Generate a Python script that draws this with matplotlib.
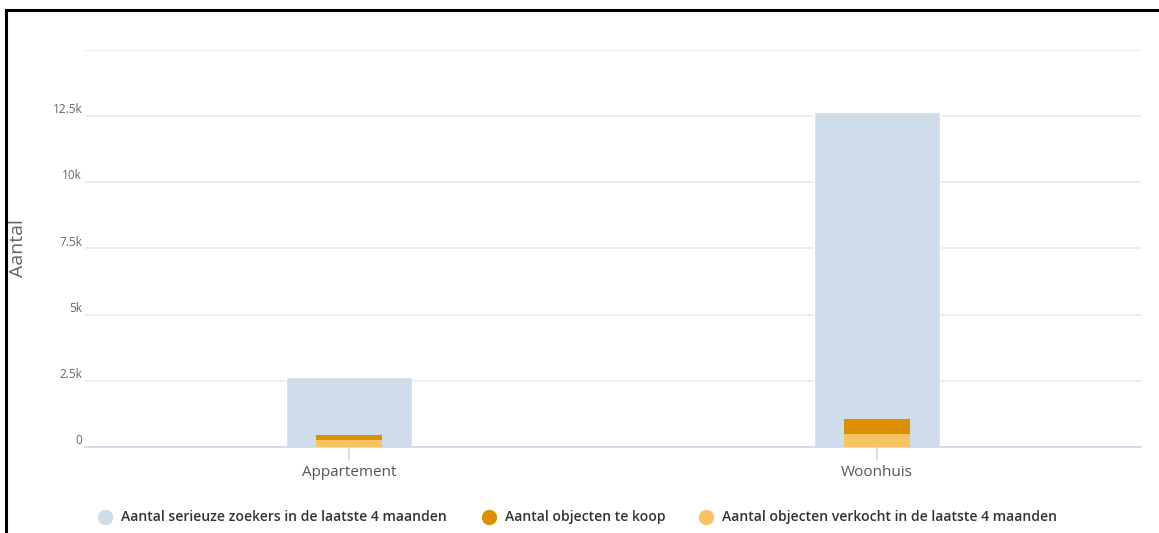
import matplotlib.pyplot as plt
import numpy as np
from matplotlib.lines import Line2D
from matplotlib.ticker import FixedLocator, FuncFormatter

plt.rcParams['font.family'] = ['Open Sans', 'DejaVu Sans']

categories = ['Appartement', 'Woonhuis']
zoekers = [2650, 12650]
te_koop = [180, 540]
verkocht = [260, 510]
series_names = ['Aantal serieuze zoekers in de laatste 4 maanden',
                'Aantal objecten te koop',
                'Aantal objecten verkocht in de laatste 4 maanden']
yticks = [0, 2500, 5000, 7500, 10000, 12500, 15000]

c_blue = '#cfdcea'
c_dark = '#de8f00'
c_light = '#f7c463'

fig = plt.figure(figsize=(11.59, 5.33), dpi=100)
W, H = 1159, 533
ax = fig.add_axes([85 / W, (H - 447) / H, (1141 - 85) / W, (447 - 50) / H])

x = np.arange(len(categories))
ax.bar(x, zoekers, width=0.24, color=c_blue, edgecolor='white', linewidth=1, zorder=2)
ax.bar(x, verkocht, width=0.125, color=c_light, linewidth=0, zorder=3)
ax.bar(x, te_koop, width=0.125, bottom=verkocht, color=c_dark, linewidth=0, zorder=3)

ax.set_xlim(-0.5, 1.5)
ax.set_ylim(0, 15000)
ax.yaxis.set_major_locator(FixedLocator(yticks))


def kfmt(v, pos):
    if v == 15000:
        return ''
    if v == 0:
        return '0'
    return ('%g' % (v / 1000)) + 'k'


ax.yaxis.set_major_formatter(FuncFormatter(kfmt))
ax.grid(axis='y', color='#e9e9e9', linewidth=1.2, zorder=0)
ax.set_axisbelow(True)
for s in ['top', 'right', 'left']:
    ax.spines[s].set_visible(False)
ax.spines['bottom'].set_color('#ccd6eb')
ax.spines['bottom'].set_linewidth(1.2)

ax.tick_params(axis='y', length=0, labelsize=8.5, labelcolor='#666666', pad=2)
for lbl in ax.get_yticklabels():
    lbl.set_verticalalignment('bottom')
ax.set_xticks(x)
ax.set_xticklabels(categories)
ax.tick_params(axis='x', length=9, color='#ccd6eb', width=1.2, labelsize=11,
               labelcolor='#555555', pad=4)

fig.text(18 / W, 1 - 248 / H, 'Aantal', rotation=90, ha='center', va='center',
         fontsize=14, color='#666666')

# legend drawn by hand so the items sit where they should
legend_x = [105, 489, 706]
legend_c = [c_blue, c_dark, c_light]
for lx, col, name in zip(legend_x, legend_c, series_names):
    fig.add_artist(Line2D([lx / W], [1 - 517 / H], marker='o', markersize=10,
                          color=col, linestyle='none'))
    fig.text((lx + 16) / W, 1 - 517 / H, name, ha='left', va='center',
             fontsize=10.1, color='#333333', fontweight='semibold')

# black frame on top and left
fig.add_artist(Line2D([6 / W, 1], [1 - 9.5 / H, 1 - 9.5 / H], color='black', linewidth=2.2))
fig.add_artist(Line2D([6 / W, 6 / W], [0, 1 - 9.5 / H], color='black', linewidth=2.2))

fig.savefig('out.png', dpi=100)
